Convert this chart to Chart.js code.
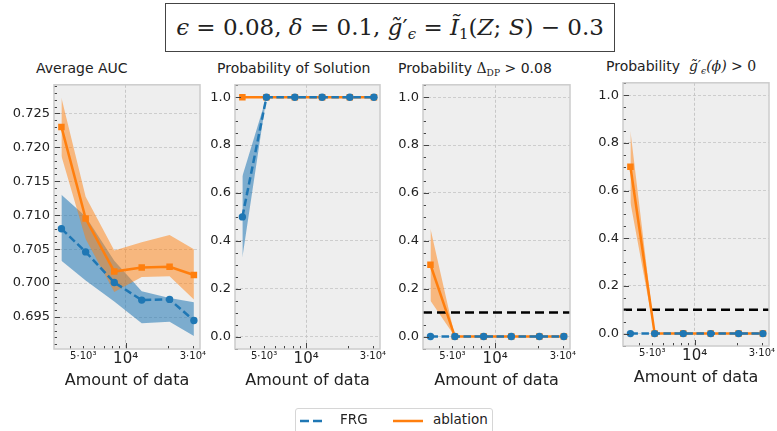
<!DOCTYPE html>
<html>
<head>
<meta charset="utf-8">
<script src="https://cdn.jsdelivr.net/npm/chart.js@4.4.1/dist/chart.umd.min.js"></script>
<style>
  body { margin: 0; width: 777px; height: 431px; position: relative; background: #fff; overflow: hidden; font-family: "DejaVu Sans", sans-serif; color: #222; }
  canvas { position: absolute; }
  .ttl { position: absolute; font-size: 14px; white-space: nowrap; line-height: 17px; }
  .ttl sub { font-size: 65%; vertical-align: -0.3em; line-height: 0; }
  .srf { font-family: "DejaVu Serif", serif; }
  .mi { font-family: "DejaVu Serif", serif; font-style: italic; }
  #head { position: absolute; left: 165px; top: 3px; width: 450px; height: 49px; border: 1px solid #444; box-sizing: border-box;
          font-family: "DejaVu Serif", serif; font-size: 23px; text-align: center; line-height: 47px; white-space: nowrap; }
  #head sub { font-size: 65%; vertical-align: -0.25em; line-height: 0; }
  #legend { position: absolute; left: 295px; top: 408px; width: 198px; height: 30px; border: 1px solid #d6d6d6; border-radius: 3px; box-sizing: border-box; background: #fff; font-size: 13.5px; }
  #legend svg, #legend span { position: absolute; }
</style>
</head>
<body>
<div id="head"><i>ϵ</i> = 0.08, <i>δ</i> = 0.1, <i>g̃</i>′<sub><i>ϵ</i></sub> = <i>Ĩ</i><sub>1</sub>(<i>Z</i>; <i>S</i>) − 0.3</div>

<div class="ttl" style="left:36px;top:60px">Average AUC</div>
<div class="ttl" style="left:217px;top:60px">Probability of Solution</div>
<div class="ttl" style="left:398px;top:60px">Probability <span class="srf">Δ<sub>DP</sub></span> &gt; 0.08</div>
<div class="ttl" style="left:606px;top:58px">Probability&nbsp;&nbsp;<span class="mi">g̃′<sub>ϵ</sub>(ϕ)</span> <span class="srf">&gt; 0</span></div>

<canvas id="c1" width="210" height="317" style="left:0px;top:73px"></canvas>
<canvas id="c2" width="195" height="317" style="left:195px;top:73px"></canvas>
<canvas id="c3" width="197" height="317" style="left:383px;top:73px"></canvas>
<canvas id="c4" width="194" height="316" style="left:583px;top:71px"></canvas>

<div id="legend">
  <svg width="26" height="6" style="left:4px;top:9px"><line x1="0" y1="3" x2="26" y2="3" stroke="#1f77b4" stroke-width="2.5" stroke-dasharray="9 4"/></svg>
  <span style="left:44px;top:2px">FRG</span>
  <svg width="30" height="6" style="left:97px;top:9px"><line x1="0" y1="3" x2="30" y2="3" stroke="#ff7f0e" stroke-width="2.5"/></svg>
  <span style="left:137px;top:2px">ablation</span>
</div>

<script>
// amount of data (x values, shared by all panels)
const dataSize = [3500, 5200, 8300, 13000, 20500, 30500];
const xLimits = [3100, 33700];
const xTickValues = [5000, 10000, 30000];
const xTickLabels = ["5·10³", "10⁴", "3·10⁴"];
const xMinorTicks = [4000, 5000, 6000, 7000, 8000, 9000, 20000, 30000];

// Average AUC
const aucFRG = [0.7080, 0.7046, 0.7001, 0.6975, 0.6976, 0.6945];
const aucFRGLow = [0.7033, 0.7004, 0.6973, 0.6941, 0.6943, 0.6922];
const aucFRGHigh = [0.7130, 0.7098, 0.7033, 0.6988, 0.6978, 0.6972];
const aucAbl = [0.7230, 0.7095, 0.7017, 0.7023, 0.7024, 0.7012];
const aucAblLow = [0.7187, 0.7065, 0.6987, 0.7009, 0.7010, 0.6976];
const aucAblHigh = [0.7273, 0.7127, 0.7048, 0.7060, 0.7071, 0.7050];
const aucTicks = [0.695, 0.700, 0.705, 0.710, 0.715, 0.720, 0.725];

// Probability of solution
const solFRG = [0.5, 1, 1, 1, 1, 1];
const solFRGLow = [0.33, 1, 1, 1, 1, 1];
const solFRGHigh = [0.67, 1, 1, 1, 1, 1];
const solAbl = [1, 1, 1, 1, 1, 1];

// Probability Delta_DP > 0.08
const dpFRG = [0, 0, 0, 0, 0, 0];
const dpAbl = [0.3, 0, 0, 0, 0, 0];
const dpAblLow = [0.15, 0, 0, 0, 0, 0];
const dpAblHigh = [0.45, 0, 0, 0, 0, 0];

// Probability g'(phi) > 0
const gFRG = [0, 0, 0, 0, 0, 0];
const gAbl = [0.7, 0, 0, 0, 0, 0];
const gAblLow = [0.55, 0, 0, 0, 0, 0];
const gAblHigh = [0.85, 0, 0, 0, 0, 0];

const probTicks = [0, 0.2, 0.4, 0.6, 0.8, 1.0];
const deltaLevel = 0.1;

const BLUE = "#1f77b4", ORANGE = "#ff7f0e";
const BLUE_FILL = "rgba(31,119,180,0.55)", ORANGE_FILL = "rgba(255,127,14,0.5)";

const pts = ys => ys.map((y, i) => ({ x: dataSize[i], y }));

function lineSet(ys, color, dashed) {
  return {
    data: pts(ys), borderColor: color, backgroundColor: color, borderWidth: 2.5,
    borderDash: dashed ? [7.5, 3.5] : [], pointStyle: dashed ? "circle" : "rect",
    pointRadius: dashed ? 3.7 : 4.6, pointBorderWidth: 0, fill: false, tension: 0
  };
}
function bandSets(lo, hi, fillColor) {
  return [
    { data: pts(hi), borderWidth: 0, pointRadius: 0, fill: false, tension: 0 },
    { data: pts(lo), borderWidth: 0, pointRadius: 0, fill: "-1", backgroundColor: fillColor, tension: 0 }
  ];
}
function thresholdSet() {
  return {
    data: xLimits.map(x => ({ x, y: deltaLevel })), borderColor: "#000", borderWidth: 2.5,
    borderDash: [9, 5], pointRadius: 0, fill: false
  };
}

const panelFrame = {
  id: "panelFrame",
  beforeDraw(chart) {
    const a = chart.chartArea, c = chart.ctx;
    c.save();
    c.fillStyle = "#eeeeee";
    c.fillRect(a.left, a.top, a.right - a.left, a.bottom - a.top);
    c.restore();
  },
  afterDraw(chart) {
    const a = chart.chartArea, c = chart.ctx;
    const xs = chart.scales.x, ys = chart.scales.y;
    const o = chart.options.plugins.panelFrame;
    c.save();
    c.strokeStyle = "#444";
    c.lineWidth = 1;
    c.beginPath();
    xMinorTicks.forEach(v => {
      const px = Math.round(xs.getPixelForValue(v)) + 0.5;
      c.moveTo(px, a.bottom); c.lineTo(px, a.bottom - 3);
    });
    const p10 = Math.round(xs.getPixelForValue(10000)) + 0.5;
    c.moveTo(p10, a.bottom); c.lineTo(p10, a.bottom - 6);
    o.yMajor.forEach(v => {
      const py = Math.round(ys.getPixelForValue(v)) + 0.5;
      c.moveTo(a.left, py); c.lineTo(a.left + 6, py);
    });
    for (let v = o.yMinorFrom; v <= ys.max; v += o.yMinorStep) {
      const py = Math.round(ys.getPixelForValue(v)) + 0.5;
      c.moveTo(a.left, py); c.lineTo(a.left + 3, py);
    }
    c.stroke();
    c.strokeStyle = "#cccccc";
    c.lineWidth = 1.5;
    c.strokeRect(a.left, a.top, a.right - a.left, a.bottom - a.top);
    c.restore();
  }
};

function makePanel(id, datasets, y, padRight) {
  return new Chart(document.getElementById(id), {
    type: "line",
    data: { datasets },
    plugins: [panelFrame],
    options: {
      responsive: false, animation: false, events: [],
      layout: { padding: { top: 10, right: padRight, left: 0, bottom: 0 } },
      plugins: {
        legend: { display: false }, tooltip: { enabled: false },
        panelFrame: { yMajor: y.ticks, yMinorFrom: y.minorFrom, yMinorStep: y.minorStep }
      },
      scales: {
        x: {
          type: "logarithmic", min: xLimits[0], max: xLimits[1],
          afterBuildTicks: s => { s.ticks = xTickValues.map(v => ({ value: v })); },
          afterFit: s => { s.height = 41; },
          ticks: {
            autoSkip: false, maxRotation: 0, padding: 1, color: "#222",
            callback: v => xTickLabels[xTickValues.indexOf(v)],
            font: ctx => ({ family: "DejaVu Sans", size: ctx.tick && ctx.tick.value === 10000 ? 15 : 10 })
          },
          grid: {
            drawTicks: false, lineWidth: 0.8,
            color: ctx => (ctx.tick && ctx.tick.value === 10000 ? "#bdbdbd" : "rgba(0,0,0,0)")
          },
          border: { display: false, dash: [3, 2] },
          title: { display: true, text: "Amount of data", color: "#222", padding: 0, font: { family: "DejaVu Sans", size: 16 } }
        },
        y: {
          min: y.min, max: y.max,
          afterBuildTicks: s => { s.ticks = y.ticks.map(v => ({ value: v })); },
          afterFit: s => { s.width = y.width; },
          ticks: { padding: 4, color: "#222", callback: v => v.toFixed(y.dec), font: { family: "DejaVu Sans", size: 13 } },
          grid: { drawTicks: false, lineWidth: 0.8, color: "#c4c4c4" },
          border: { display: false, dash: [3, 2] }
        }
      }
    }
  });
}

const aucAxis = { min: 0.6903, max: 0.7292, ticks: aucTicks, dec: 3, width: 54, minorFrom: 0.691, minorStep: 0.001 };
const probAxis = w => ({ min: -0.052, max: 1.052, ticks: probTicks, dec: 1, width: w, minorFrom: -0.05, minorStep: 0.05 });

makePanel("c1", [
  lineSet(aucFRG, BLUE, true),
  lineSet(aucAbl, ORANGE, false),
  ...bandSets(aucAblLow, aucAblHigh, ORANGE_FILL),
  ...bandSets(aucFRGLow, aucFRGHigh, BLUE_FILL)
], aucAxis, 10);

makePanel("c2", [
  lineSet(solFRG, BLUE, true),
  lineSet(solAbl, ORANGE, false),
  ...bandSets(solFRGLow, solFRGHigh, BLUE_FILL)
], probAxis(40), 10);

makePanel("c3", [
  lineSet(dpFRG, BLUE, true),
  lineSet(dpAbl, ORANGE, false),
  thresholdSet(),
  ...bandSets(dpAblLow, dpAblHigh, ORANGE_FILL)
], probAxis(40), 10);

makePanel("c4", [
  lineSet(gFRG, BLUE, true),
  lineSet(gAbl, ORANGE, false),
  thresholdSet(),
  ...bandSets(gAblLow, gAblHigh, ORANGE_FILL)
], probAxis(40), 8);
</script>
</body>
</html>
